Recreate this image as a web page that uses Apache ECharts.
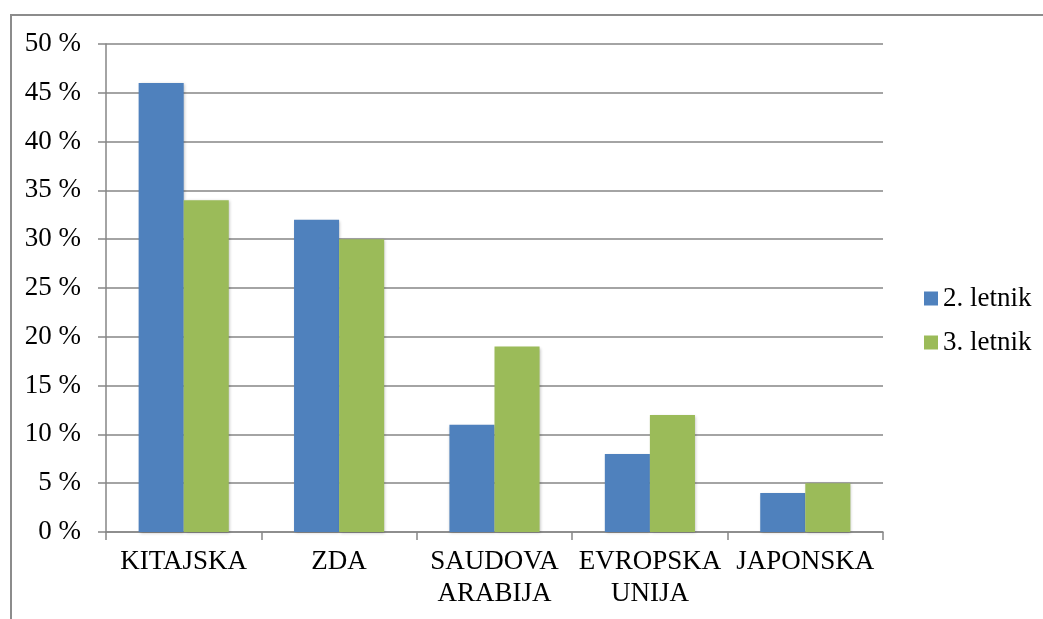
<!DOCTYPE html>
<html>
<head>
<meta charset="utf-8">
<script src="https://cdn.jsdelivr.net/npm/echarts@6/dist/echarts.min.js"></script>
<style>
  html, body { margin: 0; padding: 0; background: #fff; overflow: hidden; }
  #frame { position: absolute; left: 10px; top: 14px; width: 1100px; height: 700px; border: 2px solid #8c8c8c; box-sizing: border-box; }
  #chart { position: absolute; left: 0; top: 0; width: 1043px; height: 619px; }
</style>
</head>
<body>
<div id="frame"></div>
<div id="chart"></div>
<script>
var categories = ['KITAJSKA', 'ZDA', 'SAUDOVA\nARABIJA', 'EVROPSKA\nUNIJA', 'JAPONSKA'];
var seriesNames = ['2. letnik', '3. letnik'];
var letnik2 = [46, 32, 11, 8, 4];
var letnik3 = [34, 30, 19, 12, 5];
var yTicks = { min: 0, max: 50, step: 5 };

var font = 'Liberation Serif, Times New Roman, serif';
var myChart = echarts.init(document.getElementById('chart'));

var option = {
    animation: false,
    backgroundColor: 'transparent',
    textStyle: { fontFamily: font },
    grid: { left: 106, right: 160, top: 44, bottom: 87 },
    legend: {
        orient: 'vertical',
        left: 924,
        top: 285,
        padding: 0,
        itemWidth: 14,
        itemHeight: 14,
        itemGap: 17,
        icon: 'rect',
        data: seriesNames,
        textStyle: { color: '#000', fontSize: 27, fontFamily: font }
    },
    xAxis: {
        type: 'category',
        data: categories,
        axisLine: { lineStyle: { color: '#868686', width: 1.5 } },
        axisTick: { show: true, length: 8, lineStyle: { color: '#868686', width: 1.5 } },
        axisLabel: { color: '#000', fontSize: 27, fontFamily: font, margin: 14, lineHeight: 32, interval: 0 }
    },
    yAxis: {
        type: 'value',
        min: yTicks.min,
        max: yTicks.max,
        interval: yTicks.step,
        axisLine: { show: true, lineStyle: { color: '#868686', width: 1.5 } },
        axisTick: { show: true, length: 8, lineStyle: { color: '#868686', width: 1.5 } },
        splitLine: { lineStyle: { color: '#868686', width: 1.5 } },
        axisLabel: { color: '#000', fontSize: 27, fontFamily: font, margin: 25, formatter: '{value} %' }
    },
    series: [{
        name: seriesNames[0],
        type: 'bar',
        data: letnik2,
        barGap: '0%',
        barCategoryGap: '42%',
        itemStyle: { color: '#4f81bd', shadowColor: 'rgba(0,0,0,0.25)', shadowBlur: 3, shadowOffsetX: 1, shadowOffsetY: 1 }
    }, {
        name: seriesNames[1],
        type: 'bar',
        data: letnik3,
        barGap: '0%',
        barCategoryGap: '42%',
        itemStyle: { color: '#9bbb59', shadowColor: 'rgba(0,0,0,0.25)', shadowBlur: 3, shadowOffsetX: 1, shadowOffsetY: 1 }
    }]
};

myChart.setOption(option);
</script>
</body>
</html>
